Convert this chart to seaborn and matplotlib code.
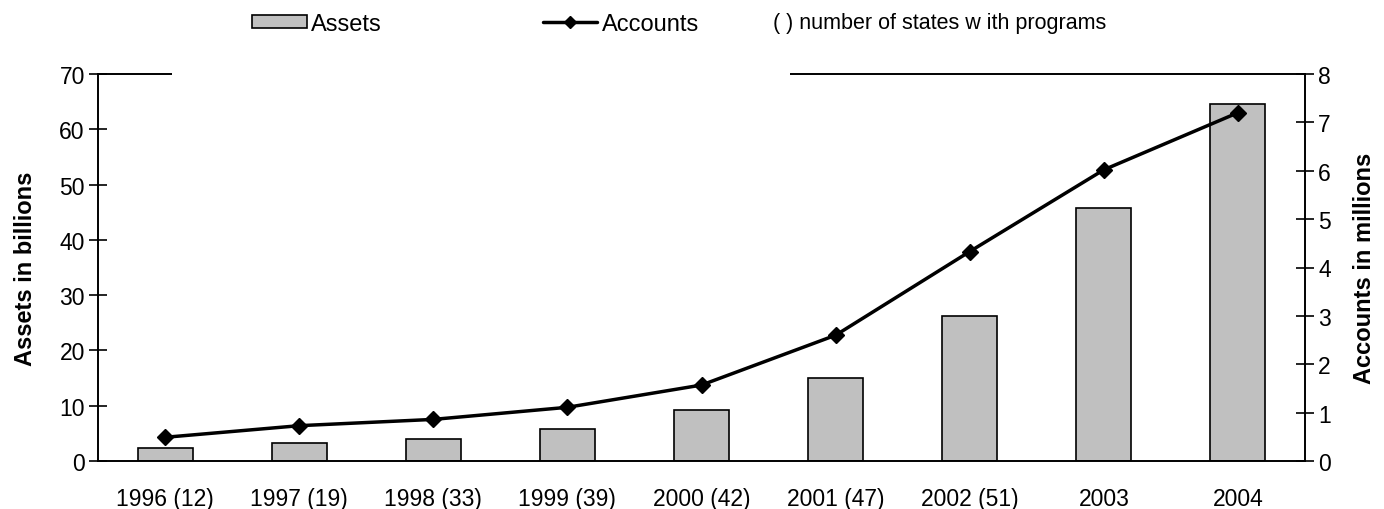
import pandas as pd
import matplotlib.pyplot as plt
import seaborn as sns
from matplotlib.patches import Rectangle, Patch
from matplotlib.lines import Line2D

years = ["1996 (12)", "1997 (19)", "1998 (33)", "1999 (39)", "2000 (42)",
         "2001 (47)", "2002 (51)", "2003", "2004"]
assets = [2.4, 3.2, 3.9, 5.7, 9.3, 15.1, 26.3, 45.7, 64.5]
accounts = [0.49, 0.73, 0.86, 1.11, 1.57, 2.6, 4.33, 6.02, 7.2]

df = pd.DataFrame({"year": years, "assets": assets, "accounts": accounts})

sns.set_theme(style="white")
plt.rcParams['font.family'] = ['Liberation Sans', 'DejaVu Sans']
plt.rcParams.update({"text.color": "black", "axes.labelcolor": "black",
                     "xtick.color": "black", "ytick.color": "black"})

fig = plt.figure(figsize=(13.84, 5.10), dpi=100)
ax = fig.add_axes([98 / 1384, 1 - 462 / 510, (1305 - 98) / 1384, (462 - 75) / 510])

sns.barplot(data=df, x="year", y="assets", color="#c0c0c0", edgecolor="black",
            linewidth=1.2, width=0.41, saturation=1, ax=ax)

ax2 = ax.twinx()
ax2.plot(range(len(years)), df["accounts"], color="black", lw=2.5,
         marker="D", markersize=8)

ax.set_xlim(-0.5, len(years) - 0.5)
ax.set_ylim(0, 70)
ax2.set_ylim(0, 8)
ax.set_yticks(range(0, 71, 10))
ax2.set_yticks(range(0, 9))

# category ticks sit between the bars, labels sit under them
ax.set_xticks([i - 0.5 for i in range(len(years) + 1)])
ax.set_xticklabels([])
ax.set_xticks(range(len(years)), minor=True)
ax.set_xticklabels(years, minor=True)
ax.tick_params(axis="x", which="minor", length=0, labelsize=16.5, pad=19, labelcolor="black")
ax.tick_params(axis="x", which="major", direction="inout", length=13, width=1.2, color="black")
ax.tick_params(axis="y", direction="inout", length=13, width=1.2, color="black",
               labelcolor="black", labelsize=16.5, pad=3)
ax2.tick_params(axis="y", direction="inout", length=13, width=1.2, color="black",
                labelcolor="black", labelsize=16.5, pad=3)

ax.set_xlabel("")
ax.set_ylabel("Assets in billions", fontsize=17, fontweight="bold", labelpad=16, color="black")
ax2.set_ylabel("Accounts in millions", fontsize=17, fontweight="bold", labelpad=16, color="black")

for a in (ax, ax2):
    for s in a.spines.values():
        s.set_color("black")
        s.set_linewidth(1.2)

# white block where the legend hides the top border
fig.patches.append(Rectangle((172 / 1384, 1 - 90 / 510), (790 - 172) / 1384, 90 / 510,
                             transform=fig.transFigure, facecolor="white",
                             edgecolor="none", zorder=5))

handles = [Patch(facecolor="#c0c0c0", edgecolor="black", linewidth=1.2),
           Line2D([], [], color="black", lw=2.5, marker="D", markersize=6)]
fig.legend(handles, ["Assets", "Accounts"], ncol=2, frameon=False,
           loc="center left", bbox_to_anchor=(231 / 1384, 1 - 25 / 510),
           fontsize=17, handlelength=2.3, handleheight=0.5, handletextpad=0.2,
           columnspacing=6.8, labelcolor="black")
fig.text(773 / 1384, 1 - 24 / 510, "( ) number of states w ith programs",
         fontsize=15.5, va="center", ha="left", zorder=6, color="black")

fig.savefig("out.png", dpi=100)
